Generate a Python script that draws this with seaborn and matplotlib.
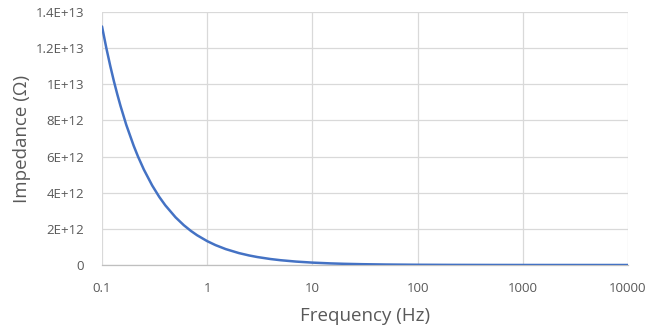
import matplotlib
matplotlib.use("Agg")
import matplotlib.pyplot as plt
import seaborn as sns
import pandas as pd
from matplotlib.ticker import FixedLocator, FixedFormatter

frequency_hz = [0.1, 0.11, 0.12, 0.13, 0.14, 0.15, 0.17, 0.2, 0.22, 0.25, 0.3, 0.35, 0.4,
                0.5, 0.6, 0.7, 0.8, 1, 1.2, 1.5, 2, 2.5, 3, 4, 5, 7, 10, 15, 20, 30, 50,
                100, 200, 500, 1000, 2000, 5000, 10000]
impedance_ohm = [1.32e13, 1.20e13, 1.10e13, 1.015e13, 9.43e12, 8.8e12, 7.76e12, 6.6e12,
                 6.0e12, 5.28e12, 4.4e12, 3.77e12, 3.3e12, 2.64e12, 2.2e12, 1.886e12,
                 1.65e12, 1.32e12, 1.10e12, 8.8e11, 6.6e11, 5.28e11, 4.4e11, 3.3e11,
                 2.64e11, 1.886e11, 1.32e11, 8.8e10, 6.6e10, 4.4e10, 2.64e10, 1.32e10,
                 6.6e9, 2.64e9, 1.32e9, 6.6e8, 2.64e8, 1.32e8]

x_ticks = [0.1, 1, 10, 100, 1000, 10000]
x_tick_labels = ["0.1", "1", "10", "100", "1000", "10000"]
y_ticks = [0, 2e12, 4e12, 6e12, 8e12, 1e13, 1.2e13, 1.4e13]
y_tick_labels = ["0", "2E+12", "4E+12", "6E+12", "8E+12", "1E+13", "1.2E+13", "1.4E+13"]

df = pd.DataFrame({"Frequency": frequency_hz, "Impedance": impedance_ohm})

sns.set_style("white")
plt.rcParams["font.family"] = ["Open Sans", "DejaVu Sans"]

fig = plt.figure(figsize=(6.47, 3.32), dpi=100)
ax = fig.add_axes([102 / 647, 1 - 265 / 332, 526 / 647, 253 / 332])

sns.lineplot(data=df, x="Frequency", y="Impedance", ax=ax, color="#4472C4",
             linewidth=1.8, zorder=3)
ax.set_xscale("log")
ax.set_xlim(0.1, 10000)
ax.set_ylim(0, 1.4e13)

ax.xaxis.set_major_locator(FixedLocator(x_ticks))
ax.xaxis.set_major_formatter(FixedFormatter(x_tick_labels))
ax.xaxis.set_minor_locator(FixedLocator([]))
ax.yaxis.set_major_locator(FixedLocator(y_ticks))
ax.yaxis.set_major_formatter(FixedFormatter(y_tick_labels))

ax.grid(True, which="major", color="#D9D9D9", linewidth=0.9)
for s in ["top", "right", "left"]:
    ax.spines[s].set_visible(False)
ax.spines["bottom"].set_color("#BFBFBF")
ax.spines["bottom"].set_linewidth(0.9)

ax.tick_params(axis="both", length=0, colors="#595959", labelsize=9.5)
ax.tick_params(axis="x", pad=12)
ax.tick_params(axis="y", pad=13)

ax.set_xlabel("Frequency (Hz)", fontsize=13.5, color="#595959", labelpad=9)
ax.set_ylabel("Impedance (Ω)", fontsize=13.5, color="#595959", labelpad=3)

fig.savefig("out.png", dpi=100)
